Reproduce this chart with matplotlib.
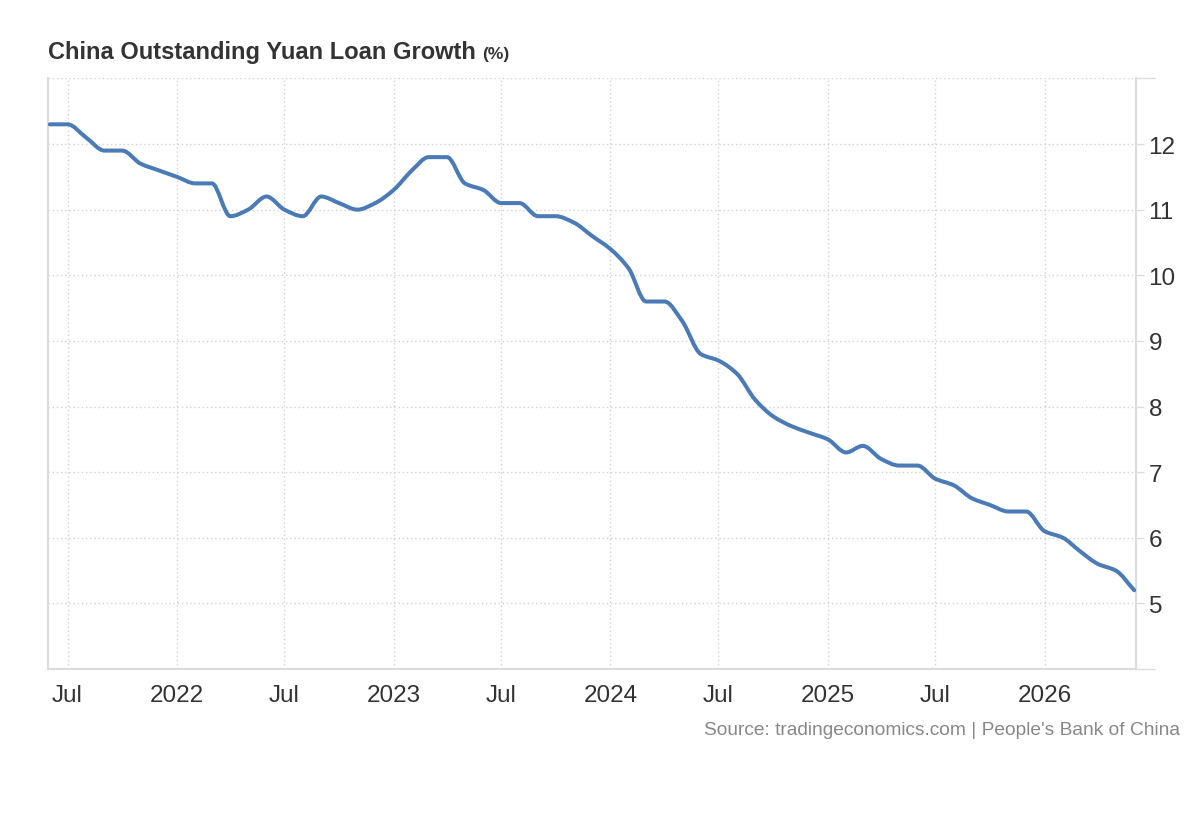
import numpy as np
import pandas as pd
import matplotlib
matplotlib.use("Agg")
import matplotlib.pyplot as plt
import matplotlib.dates as mdates
from matplotlib.path import Path
from matplotlib.patches import PathPatch

# ---------------- data ----------------
start_month = "2021-06-01"
loan_growth = [
    12.3, 12.3, 12.1, 11.9, 11.9, 11.7, 11.6,                     # Jun-Dec 2021
    11.5, 11.4, 11.4, 10.9, 11.0, 11.2, 11.0, 10.9, 11.2, 11.1, 11.0, 11.1,  # 2022
    11.3, 11.6, 11.8, 11.8, 11.4, 11.3, 11.1, 11.1, 10.9, 10.9, 10.8, 10.6,  # 2023
    10.4, 10.1, 9.6, 9.6, 9.3, 8.8, 8.7, 8.5, 8.1, 7.85, 7.7, 7.6,          # 2024
    7.5, 7.3, 7.4, 7.2, 7.1, 7.1, 6.9, 6.8, 6.6, 6.5, 6.4, 6.4,             # 2025
    6.1, 6.0, 5.8, 5.6, 5.5, 5.2,                                           # Jan-Jun 2026
]
x_tick_dates = ["2021-07-01", "2022-01-01", "2022-07-01", "2023-01-01", "2023-07-01",
                "2024-01-01", "2024-07-01", "2025-01-01", "2025-07-01", "2026-01-01"]
x_tick_labels = ["Jul", "2022", "Jul", "2023", "Jul", "2024", "Jul", "2025", "Jul", "2026"]
y_ticks = [5, 6, 7, 8, 9, 10, 11, 12]
y_range = (4, 13)

title = "China Outstanding Yuan Loan Growth"
unit = "(%)"
source = "Source: tradingeconomics.com | People's Bank of China"

# ---------------- style ----------------
plt.rcParams['font.family'] = ['Liberation Sans', 'DejaVu Sans']
LINE = '#4b7bb6'
TXT = '#333333'
GRID = '#d2d2d2'
SPINE = '#dcdcdc'

dates = pd.date_range(start_month, periods=len(loan_growth), freq='MS')
xs = mdates.date2num(dates.to_pydatetime())
ys = np.asarray(loan_growth, dtype=float)

fig = plt.figure(figsize=(12, 8.2), dpi=100)
ax = fig.add_axes([48 / 1200, 1 - 670 / 820, (1136 - 48) / 1200, (670 - 79.4) / 820])

# monotone (PCHIP style) tangents -> cubic bezier path through data points
h = np.diff(xs)
d = np.diff(ys) / h
m = np.zeros_like(ys)
for k in range(1, len(ys) - 1):
    if d[k - 1] * d[k] > 0:
        w1 = 2 * h[k] + h[k - 1]
        w2 = h[k] + 2 * h[k - 1]
        m[k] = (w1 + w2) / (w1 / d[k - 1] + w2 / d[k])
m[0] = 0.0 if d[0] == 0 else d[0]
m[-1] = d[-1]
verts = [(xs[0], ys[0])]
codes = [Path.MOVETO]
for k in range(len(ys) - 1):
    verts += [(xs[k] + h[k] / 3, ys[k] + m[k] * h[k] / 3),
              (xs[k + 1] - h[k] / 3, ys[k + 1] - m[k + 1] * h[k] / 3),
              (xs[k + 1], ys[k + 1])]
    codes += [Path.CURVE4] * 3
ax.add_patch(PathPatch(Path(verts, codes), facecolor='none', edgecolor=LINE,
                       lw=2.9, capstyle='round', joinstyle='round', zorder=3))

ax.set_xlim(mdates.date2num(pd.Timestamp("2021-05-29")), mdates.date2num(pd.Timestamp("2026-06-04")))
ax.set_ylim(*y_range)

ax.set_xticks(mdates.date2num(pd.to_datetime(x_tick_dates).to_pydatetime()))
ax.set_xticklabels(x_tick_labels)
ax.yaxis.tick_right()
ax.set_yticks(y_ticks)
ax.set_yticklabels([str(v) for v in y_ticks])
ax.set_yticks([y_range[0], y_range[1]], minor=True)

ax.tick_params(axis='x', length=0, pad=11, labelsize=17.5, labelcolor=TXT)
ax.tick_params(axis='y', which='major', length=6, width=1, color=SPINE, pad=3,
               labelsize=17.5, labelcolor=TXT)
ax.tick_params(axis='y', which='minor', length=14, width=1, color=SPINE)

ax.grid(True, which='major', axis='both', color=GRID, linestyle=(0, (1, 2)), linewidth=1)
ax.grid(True, which='minor', axis='y', color=GRID, linestyle=(0, (1, 2)), linewidth=1)

ax.spines['top'].set_visible(False)
for s in ['left', 'right', 'bottom']:
    ax.spines[s].set_color(SPINE)
    ax.spines[s].set_linewidth(1.5)

fig.text(48 / 1200, 1 - 53 / 820, title, fontsize=17, fontweight='bold', color=TXT,
         va='center', ha='left')
fig.canvas.draw()
t = fig.texts[0]
bb = t.get_window_extent()
fig.text(bb.x1 / 1200 + 6 / 1200, 1 - 54 / 820, unit, fontsize=12.5, fontweight='bold',
         color=TXT, va='center', ha='left')
fig.text(1180 / 1200, 1 - 731 / 820, source, fontsize=13.8, color='#888888',
         va='center', ha='right')

fig.savefig("out.png", dpi=100, facecolor='white')
